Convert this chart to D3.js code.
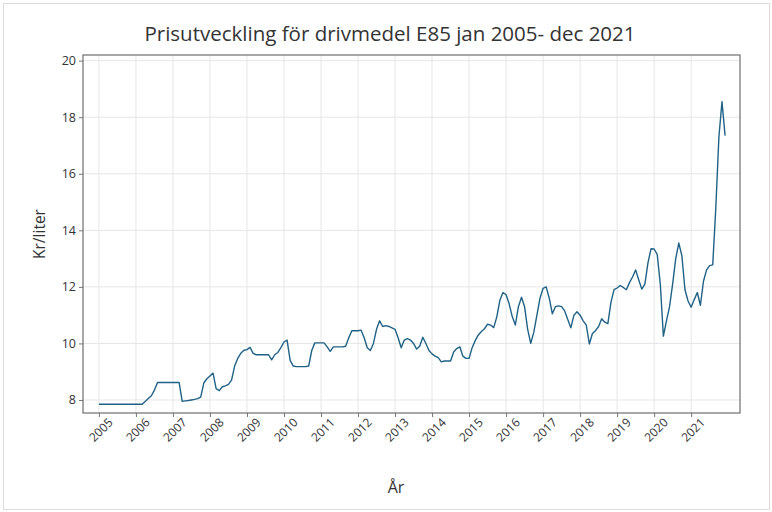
<!DOCTYPE html>
<html>
<head>
<meta charset="utf-8">
<script src="https://cdn.jsdelivr.net/npm/d3@7"></script>
<style>
  body { margin: 0; background: #fff; }
  text { font-family: "Open Sans", "Noto Sans", sans-serif; fill: #333; }
</style>
</head>
<body>
<div id="chart"></div>
<script>
// monthly E85 price, kr/liter, jan 2005 - dec 2021
const startYear = 2005;
const p2005 = [7.85, 7.85, 7.85, 7.85, 7.85, 7.85, 7.85, 7.85, 7.85, 7.85, 7.85, 7.85];
const p2006 = [7.85, 7.85, 7.85, 7.95, 8.05, 8.15, 8.35, 8.62, 8.62, 8.62, 8.62, 8.62];
const p2007 = [8.62, 8.62, 8.62, 7.95, 7.97, 7.98, 8.0, 8.02, 8.05, 8.1, 8.6, 8.75];
const p2008 = [8.85, 8.95, 8.4, 8.33, 8.47, 8.5, 8.55, 8.7, 9.2, 9.47, 9.65, 9.76];
const p2009 = [9.78, 9.86, 9.65, 9.6, 9.6, 9.6, 9.6, 9.6, 9.42, 9.6, 9.68, 9.85];
const p2010 = [10.05, 10.12, 9.4, 9.2, 9.18, 9.18, 9.18, 9.18, 9.2, 9.75, 10.02, 10.02];
const p2011 = [10.02, 10.02, 9.88, 9.72, 9.88, 9.88, 9.88, 9.88, 9.9, 10.2, 10.45, 10.45];
const p2012 = [10.45, 10.47, 10.2, 9.85, 9.75, 10.0, 10.5, 10.8, 10.6, 10.63, 10.6, 10.55];
const p2013 = [10.5, 10.2, 9.85, 10.12, 10.17, 10.12, 10.0, 9.8, 9.9, 10.22, 10.0, 9.75];
const p2014 = [9.63, 9.55, 9.5, 9.35, 9.38, 9.38, 9.38, 9.7, 9.82, 9.88, 9.55, 9.47];
const p2015 = [9.47, 9.85, 10.1, 10.3, 10.42, 10.52, 10.68, 10.65, 10.56, 10.94, 11.53, 11.8];
const p2016 = [11.72, 11.4, 10.95, 10.65, 11.3, 11.63, 11.3, 10.5, 10.0, 10.4, 11.0, 11.6];
const p2017 = [11.95, 12.0, 11.6, 11.05, 11.3, 11.33, 11.3, 11.15, 10.85, 10.55, 11.0, 11.12];
const p2018 = [11.0, 10.8, 10.65, 9.98, 10.35, 10.45, 10.6, 10.87, 10.75, 10.7, 11.45, 11.9];
const p2019 = [11.96, 12.05, 11.98, 11.9, 12.15, 12.35, 12.6, 12.25, 11.92, 12.1, 12.85, 13.35];
const p2020 = [13.34, 13.15, 12.1, 10.26, 10.8, 11.3, 12.1, 13.0, 13.55, 13.1, 11.9, 11.5];
const p2021 = [11.28, 11.55, 11.8, 11.35, 12.2, 12.6, 12.75, 12.78, 14.8, 17.3, 18.55, 17.35];

const prices = [].concat(p2005, p2006, p2007, p2008, p2009, p2010, p2011, p2012,
  p2013, p2014, p2015, p2016, p2017, p2018, p2019, p2020, p2021);
const yearTicks = d3.range(2005, 2022);
const yTicks = [8, 10, 12, 14, 16, 18, 20];

const width = 772;
const height = 512;
const plot = { left: 83, right: 740, top: 55, bottom: 413 };

const svg = d3.select("#chart").append("svg")
  .attr("width", width)
  .attr("height", height);

// light frame round the whole picture
svg.append("rect")
  .attr("x", 3.5).attr("y", 3.5)
  .attr("width", width - 6).attr("height", height - 6)
  .attr("fill", "none")
  .attr("stroke", "#dcdcdc");

const x = d3.scaleLinear().domain([2004.57, 2022.32]).range([plot.left, plot.right]);
const y = d3.scaleLinear().domain([7.54, 20.2]).range([plot.bottom, plot.top]);

const data = prices.map((v, i) => ({ t: startYear + i / 12, v: v }));

// grid
const grid = svg.append("g");
grid.selectAll("line.vx")
  .data(yearTicks)
  .enter().append("line")
  .attr("x1", d => x(d)).attr("x2", d => x(d))
  .attr("y1", plot.top).attr("y2", plot.bottom)
  .attr("stroke", "#e6e6e6");
grid.selectAll("line.hy")
  .data(yTicks)
  .enter().append("line")
  .attr("x1", plot.left).attr("x2", plot.right)
  .attr("y1", d => y(d)).attr("y2", d => y(d))
  .attr("stroke", "#e6e6e6");

// axes
const xAxis = svg.append("g")
  .attr("transform", `translate(0,${plot.bottom})`)
  .call(d3.axisBottom(x).tickValues(yearTicks).tickFormat(d3.format("d")).tickSize(4).tickSizeOuter(0));
xAxis.select(".domain").remove();
xAxis.selectAll(".tick line").attr("stroke", "#777");
xAxis.selectAll(".tick text")
  .attr("font-size", "12px")
  .attr("font-family", "Open Sans, sans-serif")
  .attr("fill", "#222")
  .attr("text-anchor", "end")
  .attr("transform", "translate(5,1) rotate(-45)")
  .attr("dx", "0")
  .attr("dy", "0.5em");

const yAxis = svg.append("g")
  .attr("transform", `translate(${plot.left},0)`)
  .call(d3.axisLeft(y).tickValues(yTicks).tickSize(4).tickSizeOuter(0));
yAxis.select(".domain").remove();
yAxis.selectAll(".tick line").attr("stroke", "#777");
yAxis.selectAll(".tick text")
  .attr("font-size", "12.5px")
  .attr("font-family", "Open Sans, sans-serif")
  .attr("fill", "#222")
  .attr("x", -7);

// plot frame
svg.append("rect")
  .attr("x", plot.left).attr("y", plot.top)
  .attr("width", plot.right - plot.left)
  .attr("height", plot.bottom - plot.top)
  .attr("fill", "none")
  .attr("stroke", "#6e6e6e")
  .attr("stroke-width", 1.2);

// price line
const line = d3.line()
  .x(d => x(d.t))
  .y(d => y(d.v));

svg.append("path")
  .datum(data)
  .attr("d", line)
  .attr("fill", "none")
  .attr("stroke", "#1f6287")
  .attr("stroke-width", 1.4)
  .attr("stroke-linejoin", "round");

// titles
svg.append("text")
  .attr("x", 390).attr("y", 41)
  .attr("text-anchor", "middle")
  .attr("font-size", "20.5px")
  .attr("fill", "#2e2e2e")
  .text("Prisutveckling för drivmedel E85 jan 2005- dec 2021");

svg.append("text")
  .attr("transform", `translate(45,${(plot.top + plot.bottom) / 2}) rotate(-90)`)
  .attr("text-anchor", "middle")
  .attr("font-size", "15.5px")
  .attr("fill", "#444")
  .text("Kr/liter");

svg.append("text")
  .attr("x", 396).attr("y", 493)
  .attr("text-anchor", "middle")
  .attr("font-size", "16px")
  .attr("fill", "#444")
  .text("År");
</script>
</body>
</html>
